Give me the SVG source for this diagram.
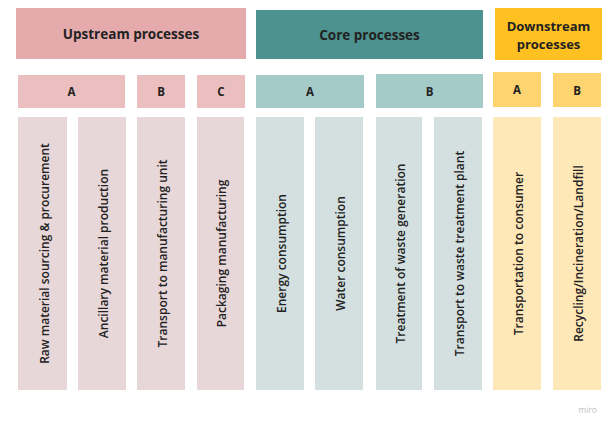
<svg xmlns="http://www.w3.org/2000/svg" width="611" height="424" viewBox="0 0 611 424">
<style>
text{font-family:"Open Sans","Noto Sans","Liberation Sans",sans-serif;fill:#222222;text-anchor:middle;dominant-baseline:central}
.h{font-size:13.5px;font-weight:700}
.h2{font-size:13px;font-weight:700}
.s{font-size:11.5px;font-weight:700}
.c{font-size:12px;font-weight:600}
.up1{fill:#e5aaab}.up2{fill:#ebbfc0}.up3{fill:#e8d7d8}
.co1{fill:#4d928e}.co2{fill:#a5cbc9}.co3{fill:#d3e0df}
.ds1{fill:#ffc021}.ds2{fill:#fdd470}.ds3{fill:#ffe8b8}
.m{font-size:8.5px;fill:#c2c2c2;font-weight:400}
</style>
<rect width="611" height="424" fill="#ffffff"/>
<g id="hdr-upstream"><rect class="up1" x="16" y="8" width="230" height="51"/><text class="h" x="131" y="33.5">Upstream processes</text></g>
<g id="hdr-core"><rect class="co1" x="256" y="10" width="227" height="49"/><text class="h" x="369.5" y="34.5">Core processes</text></g>
<g id="hdr-downstream"><rect class="ds1" x="495" y="8" width="107" height="52"/><text class="h2" x="548.5" y="25.5">Downstream</text><text class="h2" x="548.5" y="43.5">processes</text></g>

<g id="up-A"><rect class="up2" x="18" y="75" width="107" height="33"/><text class="s" x="71.5" y="91.5">A</text></g>
<g id="up-B"><rect class="up2" x="137" y="75" width="48" height="33"/><text class="s" x="161" y="91.5">B</text></g>
<g id="up-C"><rect class="up2" x="197" y="75" width="48" height="33"/><text class="s" x="221" y="91.5">C</text></g>
<g id="co-A"><rect class="co2" x="256" y="75" width="108" height="33"/><text class="s" x="310" y="91.5">A</text></g>
<g id="co-B"><rect class="co2" x="376" y="74" width="107" height="34"/><text class="s" x="429.5" y="91">B</text></g>
<g id="ds-A"><rect class="ds2" x="493" y="72" width="48" height="35"/><text class="s" x="517" y="89.5">A</text></g>
<g id="ds-B"><rect class="ds2" x="553" y="73" width="48" height="34"/><text class="s" x="577" y="90">B</text></g>

<g id="col1"><rect class="up3" x="18" y="117" width="49" height="273"/><text class="c" transform="translate(44,253.5) rotate(-90)">Raw material sourcing &amp; procurement</text></g>
<g id="col2"><rect class="up3" x="78" y="117" width="48" height="273"/><text class="c" transform="translate(103,253.5) rotate(-90)">Ancillary material production</text></g>
<g id="col3"><rect class="up3" x="137" y="117" width="48" height="273"/><text class="c" transform="translate(162,253.5) rotate(-90)">Transport to manufacturing unit</text></g>
<g id="col4"><rect class="up3" x="197" y="117" width="47" height="273"/><text class="c" transform="translate(221.5,253.5) rotate(-90)">Packaging manufacturing</text></g>
<g id="col5"><rect class="co3" x="256" y="117" width="48" height="273"/><text class="c" transform="translate(281,253.5) rotate(-90)">Energy consumption</text></g>
<g id="col6"><rect class="co3" x="315" y="117" width="48" height="273"/><text class="c" transform="translate(340,253.5) rotate(-90)">Water consumption</text></g>
<g id="col7"><rect class="co3" x="376" y="117" width="46" height="273"/><text class="c" transform="translate(400,253.5) rotate(-90)">Treatment of waste generation</text></g>
<g id="col8"><rect class="co3" x="434" y="117" width="48" height="273"/><text class="c" transform="translate(459,253.5) rotate(-90)">Transport to waste treatment plant</text></g>
<g id="col9"><rect class="ds3" x="493" y="117" width="48" height="273"/><text class="c" transform="translate(518,253.5) rotate(-90)">Transportation to consumer</text></g>
<g id="col10"><rect class="ds3" x="553" y="117" width="48" height="273"/><text class="c" transform="translate(578,253.5) rotate(-90)">Recycling/Incineration/Landfill</text></g>

<g id="connectors"></g>
<text class="m" x="587.5" y="409">miro</text>
</svg>
